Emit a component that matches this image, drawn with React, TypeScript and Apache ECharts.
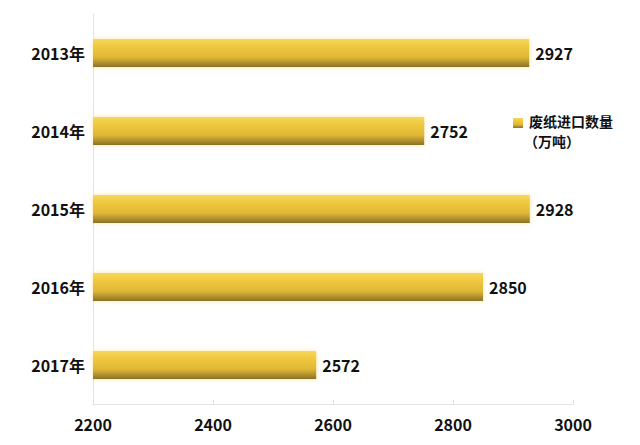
import React, { useEffect, useRef } from "react";
import * as echarts from "echarts";

const categories = ["2013年", "2014年", "2015年", "2016年", "2017年"];
const values = [2927, 2752, 2928, 2850, 2572];
const seriesName = "废纸进口数量";
const unitLabel = "（万吨）";
const xTicks = [2200, 2400, 2600, 2800, 3000];

const barGradient = () =>
  new echarts.graphic.LinearGradient(0, 0, 0, 1, [
    { offset: 0, color: "#f5d85e" },
    { offset: 0.25, color: "#f0c940" },
    { offset: 0.65, color: "#e0b735" },
    { offset: 1, color: "#8a7227" },
  ]);

export default function App() {
  const ref = useRef<HTMLDivElement>(null);
  useEffect(() => {
    if (!ref.current) return;
    const chart = echarts.init(ref.current, undefined, { renderer: "svg" });
    const font = '"Noto Sans CJK SC", "Noto Sans", sans-serif';
    chart.setOption({
      animation: false,
      backgroundColor: "#ffffff",
      grid: { left: 93, right: 67, top: 14, bottom: 41, containLabel: false },
      xAxis: {
        type: "value",
        min: xTicks[0],
        max: xTicks[xTicks.length - 1],
        interval: 200,
        axisLine: { show: true, lineStyle: { color: "#e3e3e3", width: 1 } },
        axisTick: { show: true, inside: true, length: 4, lineStyle: { color: "#e3e3e3" } },
        splitLine: { show: false },
        axisLabel: {
          color: "#111",
          fontSize: 16,
          fontWeight: "bold",
          fontFamily: font,
          margin: 12,
          formatter: (v: number) => String(v),
        },
      },
      yAxis: {
        type: "category",
        inverse: true,
        data: categories,
        axisLine: { show: true, lineStyle: { color: "#e3e3e3", width: 1 } },
        axisTick: { show: false },
        axisLabel: {
          color: "#111",
          fontSize: 16,
          fontWeight: "bold",
          fontFamily: font,
          margin: 8,
        },
      },
      legend: { show: false },
      series: [
        {
          name: seriesName,
          type: "bar",
          data: values,
          barWidth: 28,
          itemStyle: {
            color: barGradient(),
            shadowColor: "rgba(245, 215, 110, 0.6)",
            shadowBlur: 5,
          },
          label: {
            show: true,
            position: "right",
            distance: 6,
            color: "#111",
            fontSize: 16,
            fontWeight: "bold",
            fontFamily: font,
          },
        },
      ],
      graphic: [
        {
          type: "rect",
          left: 513,
          top: 118,
          shape: { width: 10, height: 10 },
          style: { fill: barGradient() },
        },
        {
          type: "text",
          left: 529,
          top: 114,
          style: {
            text: seriesName,
            fill: "#111",
            font: `bold 14px ${font}`,
          },
        },
        {
          type: "text",
          left: 524,
          top: 134,
          style: {
            text: unitLabel,
            fill: "#111",
            font: `bold 14px ${font}`,
          },
        },
      ],
    });
    return () => chart.dispose();
  }, []);
  return <div ref={ref} style={{ width: 640, height: 445, position: "absolute", left: 0, top: 0 }} />;
}
